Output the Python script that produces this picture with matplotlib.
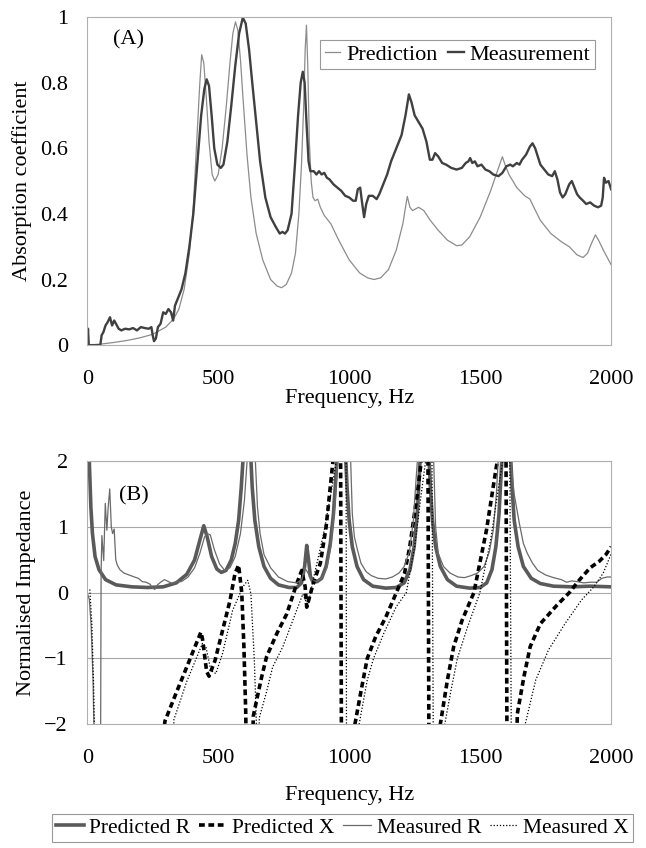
import matplotlib
matplotlib.use('Agg')
import matplotlib.pyplot as plt
import numpy as np

plt.rcParams['font.family'] = 'Liberation Serif'
plt.rcParams['font.size'] = 16

# ---- Panel A: absorption coefficient ----
pred_f = [0, 50, 100, 150, 200, 250, 300, 330, 350, 370, 390, 405, 420, 430, 437, 445, 455, 465, 477, 487,
          500, 515, 530, 545, 556, 566, 575, 585, 595, 610, 625, 645, 670, 700, 725, 742, 760, 780, 795, 808,
          818, 826, 832, 837, 842, 848, 855, 862, 870, 880, 890, 905, 930, 960, 1000, 1040, 1070, 1095, 1120, 1150,
          1180, 1205, 1215, 1222, 1232, 1242, 1265, 1285, 1310, 1340, 1375, 1410, 1430, 1460, 1500, 1540, 1570, 1585, 1595, 1610,
          1640, 1670, 1690, 1705, 1730, 1770, 1810, 1840, 1870, 1893, 1910, 1925, 1940, 1952, 1970, 2000]
pred_a = [0.0, 0.003, 0.008, 0.014, 0.022, 0.033, 0.055, 0.08, 0.11, 0.17, 0.28, 0.42, 0.65, 0.8, 0.885, 0.86, 0.75, 0.62, 0.52, 0.5,
          0.52, 0.6, 0.72, 0.86, 0.95, 0.985, 0.96, 0.87, 0.75, 0.58, 0.45, 0.34, 0.26, 0.2, 0.18, 0.175, 0.185, 0.22, 0.28, 0.4,
          0.55, 0.72, 0.9, 0.975, 0.85, 0.62, 0.5, 0.45, 0.44, 0.445, 0.42, 0.395, 0.37, 0.32, 0.26, 0.22, 0.205, 0.2, 0.205, 0.23,
          0.29, 0.37, 0.42, 0.453, 0.42, 0.41, 0.42, 0.41, 0.38, 0.35, 0.32, 0.303, 0.305, 0.33, 0.39, 0.47, 0.54, 0.574, 0.55, 0.52,
          0.48, 0.455, 0.445, 0.42, 0.38, 0.34, 0.315, 0.30, 0.275, 0.267, 0.28, 0.31, 0.336, 0.32, 0.29, 0.245]

meas_f = [0, 3, 6, 50, 55, 62, 70, 78, 87, 95, 103, 110, 120, 130, 145, 160, 175, 190, 205, 220,
          235, 245, 250, 255, 262, 270, 280, 290, 300, 310, 320, 328, 335, 345, 360, 375, 390, 405, 420, 435,
          447, 456, 465, 475, 485, 497, 510, 520, 535, 550, 565, 580, 594, 605, 618, 630, 645, 660, 680, 700,
          720, 735, 745, 755, 765, 780, 793, 805, 815, 823, 830, 837, 845, 852, 865, 875, 885, 895, 905, 915,
          925, 940, 955, 970, 985, 1000, 1015, 1025, 1033, 1042, 1050, 1057, 1065, 1075, 1090, 1105, 1115, 1130, 1145, 1160,
          1180, 1200, 1215, 1228, 1238, 1250, 1265, 1280, 1295, 1308, 1318, 1328, 1340, 1355, 1370, 1390, 1410, 1430, 1445, 1455,
          1462, 1470, 1480, 1490, 1505, 1520, 1535, 1550, 1570, 1585, 1600, 1615, 1625, 1640, 1650, 1660, 1675, 1690, 1700, 1710,
          1720, 1730, 1745, 1760, 1775, 1785, 1795, 1805, 1815, 1825, 1840, 1850, 1860, 1870, 1880, 1893, 1905, 1920, 1935, 1950,
          1962, 1968, 1973, 1980, 1990, 2000]
meas_a = [0.0, 0.05, 0.0, 0.0, 0.03, 0.04, 0.06, 0.07, 0.085, 0.06, 0.075, 0.065, 0.05, 0.045, 0.05, 0.048, 0.052, 0.045, 0.055, 0.052,
          0.05, 0.055, 0.03, 0.012, 0.02, 0.055, 0.065, 0.1, 0.095, 0.11, 0.1, 0.075, 0.12, 0.14, 0.17, 0.22, 0.3, 0.4, 0.55, 0.7,
          0.78, 0.81, 0.79, 0.7, 0.6, 0.55, 0.54, 0.55, 0.62, 0.73, 0.85, 0.95, 0.998, 0.98, 0.9, 0.8, 0.68, 0.56, 0.45, 0.39,
          0.36, 0.34, 0.345, 0.34, 0.35, 0.4, 0.55, 0.7, 0.8, 0.833, 0.8, 0.68, 0.56, 0.53, 0.53, 0.52, 0.53, 0.52, 0.525, 0.51,
          0.505, 0.49, 0.48, 0.47, 0.455, 0.45, 0.44, 0.44, 0.475, 0.48, 0.43, 0.39, 0.43, 0.455, 0.455, 0.445, 0.46, 0.49, 0.52, 0.56,
          0.6, 0.64, 0.7, 0.764, 0.74, 0.7, 0.68, 0.66, 0.62, 0.565, 0.565, 0.585, 0.575, 0.555, 0.55, 0.54, 0.535, 0.54, 0.555, 0.56,
          0.57, 0.555, 0.56, 0.545, 0.55, 0.535, 0.53, 0.52, 0.515, 0.525, 0.545, 0.55, 0.545, 0.555, 0.55, 0.565, 0.58, 0.605, 0.615, 0.6,
          0.575, 0.55, 0.535, 0.52, 0.515, 0.53, 0.505, 0.465, 0.45, 0.46, 0.49, 0.5, 0.48, 0.46, 0.45, 0.44, 0.43, 0.435, 0.425, 0.42,
          0.425, 0.45, 0.51, 0.495, 0.5, 0.475]

# ---- Panel B: normalised impedance ----
pr_f = [0, 8, 14, 20, 30, 45, 70, 110, 170, 230, 290, 340, 380, 410, 430, 445, 458, 475, 495, 512,
        530, 550, 565, 578, 588, 596, 610, 624, 630, 640, 655, 675, 700, 730, 770, 800, 818, 830, 838, 845,
        852, 862, 878, 895, 912, 928, 940, 950, 955, 970, 985, 992, 1000, 1012, 1030, 1055, 1090, 1140, 1180, 1210,
        1232, 1248, 1260, 1268, 1273, 1288, 1303, 1310, 1318, 1330, 1348, 1375, 1410, 1460, 1500, 1525, 1545, 1560, 1572, 1580,
        1585, 1600, 1615, 1622, 1630, 1645, 1665, 1695, 1730, 1780, 1850, 1920, 2000]
pr_v = [3.0, 2.0, 1.3, 0.9, 0.55, 0.35, 0.2, 0.12, 0.09, 0.08, 0.09, 0.15, 0.28, 0.5, 0.8, 1.02, 0.85, 0.55, 0.36, 0.31,
        0.34, 0.5, 0.75, 1.1, 1.6, 2.1, 3.5, 2.1, 1.6, 1.1, 0.7, 0.4, 0.22, 0.12, 0.08, 0.08, 0.15, 0.4, 0.72, 0.5,
        0.25, 0.16, 0.17, 0.22, 0.4, 0.75, 1.2, 1.8, 2.2, 3.5, 2.2, 1.6, 1.1, 0.7, 0.4, 0.2, 0.1, 0.07, 0.08, 0.15,
        0.35, 0.7, 1.2, 1.8, 2.2, 3.5, 2.2, 1.6, 1.1, 0.7, 0.4, 0.2, 0.1, 0.07, 0.08, 0.15, 0.35, 0.7, 1.2, 1.8,
        2.2, 3.5, 2.2, 1.6, 1.1, 0.7, 0.4, 0.22, 0.14, 0.1, 0.09, 0.1, 0.09]

px_f = [285, 297, 330, 380, 434, 440, 456, 465, 488, 520, 545, 564, 578, 590, 598, 605, 610, 628, 634, 647,
        666, 685, 724, 762, 800, 819, 832, 838, 845, 860, 875, 890, 912, 937, 950, 967, 971, 1015, 1022, 1046,
        1069, 1101, 1140, 1180, 1211, 1231, 1262, 1278, 1300, 1305, 1340, 1348, 1375, 1399, 1431, 1476, 1524, 1562, 1575, 1598,
        1603, 1636, 1642, 1667, 1691, 1730, 1793, 1840, 1880, 1920, 1955, 1980, 2000]
px_v = [-2.3, -1.95, -1.62, -1.13, -0.6, -0.7, -1.2, -1.27, -1.03, -0.52, -0.12, 0.29, 0.42, 0.0, -0.8, -1.8, -3.0, -3.0, -1.88, -1.63,
        -1.28, -0.97, -0.62, -0.32, 0.14, 0.34, 0.09, -0.22, -0.12, 0.1, 0.28, 0.45, 1.0, 1.96, 2.5, 2.5, -3.0, -3.0, -2.0, -1.48,
        -1.0, -0.67, -0.37, 0.0, 0.29, 0.69, 1.56, 2.1, 3.0, -3.0, -3.0, -2.0, -1.33, -0.82, -0.42, 0.0, 0.95, 1.92, 2.2, 3.0,
        -3.0, -3.0, -1.84, -1.28, -0.82, -0.47, -0.19, 0.0, 0.2, 0.38, 0.48, 0.58, 0.7]

mr_f = [0, 8, 15, 22, 28, 45, 51, 53, 56, 63, 69, 75, 80, 86, 92, 97, 103, 109, 115, 125,
        140, 160, 180, 195, 210, 225, 240, 250, 258, 268, 280, 295, 310, 325, 340, 360, 385, 410, 430, 448,
        458, 470, 485, 505, 525, 545, 565, 585, 600, 612, 627, 642, 650, 660, 675, 700, 730, 765, 800, 820,
        830, 840, 855, 875, 895, 915, 930, 945, 958, 980, 1005, 1012, 1020, 1030, 1045, 1065, 1085, 1110, 1140, 1165,
        1190, 1210, 1230, 1245, 1255, 1262, 1290, 1322, 1330, 1340, 1360, 1385, 1415, 1440, 1465, 1490, 1515, 1535, 1550, 1562,
        1570, 1592, 1615, 1630, 1650, 1665, 1680, 1700, 1720, 1750, 1780, 1810, 1830, 1850, 1870, 1895, 1920, 1945, 1965, 1985,
        2000]
mr_v = [0.0, -0.1, -0.5, -1.3, -2.5, -3.0, -2.5, 0.3, 0.87, 0.49, 1.36, 0.95, 1.3, 1.58, 1.0, 0.9, 0.97, 0.5, 0.42, 0.35,
        0.3, 0.27, 0.24, 0.22, 0.17, 0.16, 0.13, 0.07, 0.05, 0.12, 0.16, 0.2, 0.17, 0.14, 0.17, 0.17, 0.24, 0.38, 0.6, 0.85,
        0.9, 0.88, 0.66, 0.44, 0.34, 0.38, 0.55, 0.9, 1.4, 2.1, 3.5, 2.0, 1.3, 0.9, 0.58, 0.38, 0.24, 0.17, 0.15, 0.2,
        0.38, 0.32, 0.2, 0.17, 0.22, 0.38, 0.7, 1.3, 2.1, 3.5, 2.1, 1.2, 0.85, 0.68, 0.45, 0.32, 0.26, 0.22, 0.21, 0.24,
        0.3, 0.4, 0.62, 1.1, 1.7, 2.1, 3.5, 2.1, 1.0, 0.6, 0.4, 0.3, 0.24, 0.23, 0.26, 0.3, 0.4, 0.62, 0.95, 1.5,
        2.1, 3.5, 2.1, 1.5, 1.05, 0.75, 0.6, 0.45, 0.34, 0.27, 0.23, 0.2, 0.16, 0.18, 0.17, 0.15, 0.16, 0.16, 0.22, 0.24,
        0.24]

mx_f = [10, 18, 25, 32, 325, 331, 380, 440, 453, 472, 491, 517, 555, 594, 613, 625, 638, 645, 650, 653,
        657, 683, 708, 747, 785, 823, 836, 843, 862, 880, 905, 930, 955, 975, 988, 990, 1030, 1038, 1069, 1093,
        1132, 1180, 1218, 1250, 1275, 1295, 1315, 1322, 1360, 1365, 1389, 1413, 1452, 1499, 1540, 1570, 1590, 1612, 1620, 1665,
        1672, 1712, 1761, 1824, 1887, 1934, 1970, 2000]
mx_v = [0.05, -0.5, -1.5, -3.0, -3.0, -1.93, -1.35, -0.77, -0.82, -1.18, -1.23, -0.92, -0.27, 0.09, 0.19, -0.02, -1.03, -1.88, -3.0, -3.0,
        -1.9, -1.53, -1.13, -0.82, -0.42, -0.02, -0.14, -0.2, 0.19, 0.5, 0.95, 1.5, 2.1, 3.0, 3.0, -3.0, -3.0, -2.0, -1.33, -1.0,
        -0.62, -0.21, 0.0, 0.7, 1.5, 2.1, 3.0, -3.0, -3.0, -2.0, -1.48, -1.0, -0.52, 0.0, 0.8, 1.6, 2.1, 3.0, -3.0, -3.0,
        -2.0, -1.33, -0.87, -0.47, -0.11, 0.09, 0.3, 0.59]

x_ticks = [0, 500, 1000, 1500, 2000]

fig = plt.figure(figsize=(6.46, 8.48), dpi=100)
axA = fig.add_axes([0.135, 0.593, 0.811, 0.387])
axB = fig.add_axes([0.135, 0.146, 0.811, 0.31])

border = '#b0b0b0'

## Panel A
axA.plot(pred_f, pred_a, color='#8c8c8c', lw=0.9, label='Prediction')
axA.plot(meas_f, meas_a, color='#404040', lw=1.7, label='Measurement')
axA.set_xlim(0, 2000)
axA.set_ylim(0, 1)
axA.set_xticks(x_ticks)
axA.set_yticks([0, 0.2, 0.4, 0.6, 0.8, 1])
axA.set_yticklabels(['0', '0.2', '0.4', '0.6', '0.8', '1'])
axA.set_xlabel('Frequency, Hz', labelpad=0)
axA.set_ylabel('Absorption coefficient', labelpad=6)
axA.text(0.05, 0.93, '(A)', transform=axA.transAxes, ha='left', va='center')
legA = axA.legend(loc='upper right', bbox_to_anchor=(0.99, 0.965), ncol=2, handlelength=0.7, handletextpad=0.25,
                  columnspacing=0.5, borderpad=0.2, fancybox=False, framealpha=1, edgecolor='#999999')
legA.get_frame().set_linewidth(0.8)

## Panel B
for v in [-1, 0, 1, 2]:
    axB.axhline(v, color='#a8a8a8', lw=0.8, zorder=0)
axB.plot(pr_f, pr_v, color='#5a5a5a', lw=2.6, label='Predicted R')
axB.plot(px_f, px_v, color='black', lw=2.6, linestyle=(0, (1.6, 1.0)), label='Predicted X')
axB.plot(mr_f, mr_v, color='#6a6a6a', lw=0.9, label='Measured R')
axB.plot(mx_f, mx_v, color='black', lw=0.9, linestyle=(0, (1, 1.5)), label='Measured X')
axB.set_xlim(0, 2000)
axB.set_ylim(-2, 2)
axB.set_xticks(x_ticks)
axB.set_yticks([-2, -1, 0, 1, 2])
axB.set_xlabel('Frequency, Hz', labelpad=13)
axB.set_ylabel('Normalised Impedance', labelpad=6)
axB.text(0.06, 0.87, '(B)', transform=axB.transAxes, ha='left', va='center')

for ax in (axA, axB):
    ax.tick_params(axis='x', length=0, pad=18)
    ax.tick_params(axis='y', length=0, pad=14)
    for s in ax.spines.values():
        s.set_color(border)
        s.set_linewidth(0.8)

handles, labels = axB.get_legend_handles_labels()
legB = fig.legend(handles, labels, loc='lower center', bbox_to_anchor=(0.53, -0.006), ncol=4, handlelength=1.3,
                  handletextpad=0.25, columnspacing=0.4, borderpad=0.2, fancybox=False, framealpha=1,
                  edgecolor='#999999', fontsize=15.5)
legB.get_frame().set_linewidth(0.8)

fig.savefig('out.png', dpi=100)
